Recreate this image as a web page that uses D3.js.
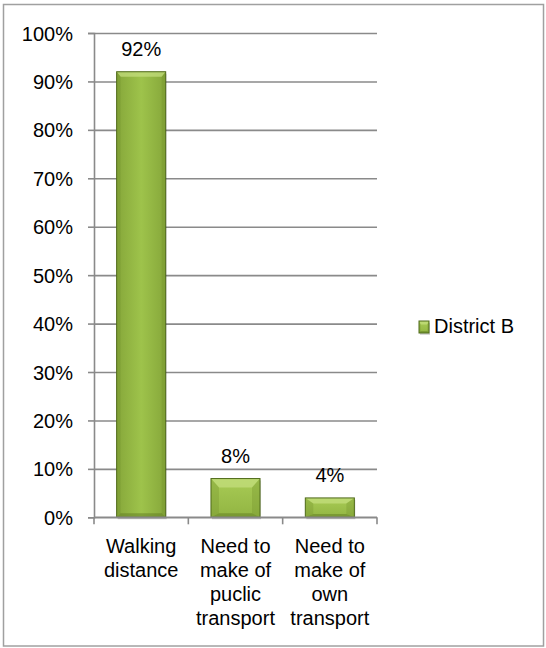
<!DOCTYPE html>
<html>
<head>
<meta charset="utf-8">
<script src="https://cdn.jsdelivr.net/npm/d3@7"></script>
<style>
  body { margin: 0; background: #fff; }
  svg text { font-family: "Liberation Sans", Arial, sans-serif; fill: #000; }
</style>
</head>
<body>
<svg id="chart"></svg>
<script>
// data
const categories = ["walk", "public", "own"];
const categoryLabels = [
  ["Walking", "distance"],
  ["Need to", "make of", "puclic", "transport"],
  ["Need to", "make of", "own", "transport"]
];
const values = [0.92, 0.08, 0.04];
const valueLabels = ["92%", "8%", "4%"];
const seriesName = "District B";
const yTicks = [0, 0.1, 0.2, 0.3, 0.4, 0.5, 0.6, 0.7, 0.8, 0.9, 1.0];

const W = 546, H = 648;
const plotLeft = 94, plotRight = 377, plotTop = 33, plotBottom = 517.3;

const svg = d3.select("#chart").attr("width", W).attr("height", H);

// outer frame
svg.append("rect")
  .attr("x", 3.5).attr("y", 4.5).attr("width", 540).attr("height", 641.5)
  .attr("fill", "#fff").attr("stroke", "#a0a0a0").attr("stroke-width", 1.5);

const x = d3.scaleBand().domain(categories).range([plotLeft, plotRight])
  .paddingInner(0.48).paddingOuter(0.24);
const y = d3.scaleLinear().domain([0, 1]).range([plotBottom, plotTop]);

// gridlines
svg.append("g")
  .attr("transform", `translate(${plotLeft},0)`)
  .call(d3.axisLeft(y).tickValues(yTicks).tickSize(-(plotRight - plotLeft)).tickFormat(""))
  .call(g => g.select(".domain").remove())
  .call(g => g.selectAll("line").attr("stroke", "#8a8a8a").attr("stroke-width", 1.6));

// y axis
svg.append("g")
  .attr("transform", `translate(${plotLeft},0)`)
  .call(d3.axisLeft(y).tickValues(yTicks).tickSize(6).tickPadding(15).tickFormat(d3.format(".0%")))
  .call(g => g.select(".domain").attr("stroke", "#8a8a8a").attr("stroke-width", 1.6))
  .call(g => g.selectAll("line").attr("stroke", "#8a8a8a").attr("stroke-width", 1.6))
  .call(g => g.selectAll("text").attr("font-size", 20).attr("dy", "0.35em")
    .style("font-family", "'Liberation Sans', Arial, sans-serif").attr("fill", "#000"));

// gradients
const defs = svg.append("defs");
const grad = defs.append("linearGradient").attr("id", "barGrad")
  .attr("x1", "0%").attr("x2", "100%").attr("y1", "0%").attr("y2", "0%");
grad.append("stop").attr("offset", "0%").attr("stop-color", "#86a73a");
grad.append("stop").attr("offset", "50%").attr("stop-color", "#9ec34b");
grad.append("stop").attr("offset", "100%").attr("stop-color", "#86a73a");

const vgrad = defs.append("linearGradient").attr("id", "barGradV")
  .attr("x1", "0%").attr("x2", "0%").attr("y1", "0%").attr("y2", "100%");
vgrad.append("stop").attr("offset", "0%").attr("stop-color", "#a8cb55");
vgrad.append("stop").attr("offset", "100%").attr("stop-color", "#92b542");

function bevelBar(g, bx, by, bw, bh, tall) {
  const bs = Math.min(tall ? 4 : 8, bw / 6);   // side bevel
  const bt = Math.min(tall ? 5 : 9, bh / 3.5); // top bevel
  const bb = Math.min(4, bh / 6);              // bottom bevel
  // shadow
  g.append("rect").attr("x", bx + 1).attr("y", by + 2).attr("width", bw).attr("height", bh)
    .attr("fill", "#000").attr("opacity", 0.15);
  g.append("rect").attr("x", bx).attr("y", by).attr("width", bw).attr("height", bh)
    .attr("fill", tall ? "url(#barGrad)" : "url(#barGradV)");
  // top face
  g.append("path")
    .attr("d", `M${bx},${by} L${bx + bw},${by} L${bx + bw - bs},${by + bt} L${bx + bs},${by + bt} Z`)
    .attr("fill", "#c6e080").attr("opacity", 0.7);
  // left face
  g.append("path")
    .attr("d", `M${bx},${by} L${bx + bs},${by + bt} L${bx + bs},${by + bh - bb} L${bx},${by + bh} Z`)
    .attr("fill", "#6f8d2b").attr("opacity", 0.3);
  // right face
  g.append("path")
    .attr("d", `M${bx + bw},${by} L${bx + bw - bs},${by + bt} L${bx + bw - bs},${by + bh - bb} L${bx + bw},${by + bh} Z`)
    .attr("fill", "#6f8d2b").attr("opacity", 0.3);
  // bottom face
  g.append("path")
    .attr("d", `M${bx},${by + bh} L${bx + bs},${by + bh - bb} L${bx + bw - bs},${by + bh - bb} L${bx + bw},${by + bh} Z`)
    .attr("fill", "#5f7b22").attr("opacity", 0.5);
  g.append("rect").attr("x", bx).attr("y", by).attr("width", bw).attr("height", bh)
    .attr("fill", "none").attr("stroke", "#4f6a1a").attr("stroke-width", 1);
}

const bars = svg.append("g");
categories.forEach((c, i) => {
  const bx = x(c), bw = x.bandwidth();
  const by = y(values[i]), bh = plotBottom - y(values[i]);
  bevelBar(bars.append("g"), bx, by, bw, bh, bh > 100);
});

// x axis line + boundary ticks
svg.append("line").attr("x1", plotLeft).attr("x2", plotRight).attr("y1", plotBottom).attr("y2", plotBottom)
  .attr("stroke", "#8a8a8a").attr("stroke-width", 1.6);
const boundaries = d3.range(categories.length + 1).map(i => plotLeft + i * x.step());
svg.append("g").selectAll("line").data(boundaries).join("line")
  .attr("x1", d => d).attr("x2", d => d).attr("y1", plotBottom).attr("y2", plotBottom + 7)
  .attr("stroke", "#8a8a8a").attr("stroke-width", 1.6);

// value labels
svg.append("g").selectAll("text").data(categories).join("text")
  .attr("x", d => x(d) + x.bandwidth() / 2)
  .attr("y", (d, i) => y(values[i]) - 16)
  .attr("text-anchor", "middle").attr("font-size", 20)
  .text((d, i) => valueLabels[i]);

// category labels
const catText = svg.append("g").selectAll("text").data(categories).join("text")
  .attr("text-anchor", "middle").attr("font-size", 20);
catText.each(function (d, i) {
  const t = d3.select(this);
  categoryLabels[i].forEach((line, j) => {
    t.append("tspan").attr("x", x(d) + x.bandwidth() / 2).attr("y", 553 + j * 24).text(line);
  });
});

// legend
const lg = svg.append("g");
bevelBar(lg, 419, 321, 10, 12, false);
lg.append("text").attr("x", 434).attr("y", 333).attr("font-size", 20).text(seriesName);
</script>
</body>
</html>
